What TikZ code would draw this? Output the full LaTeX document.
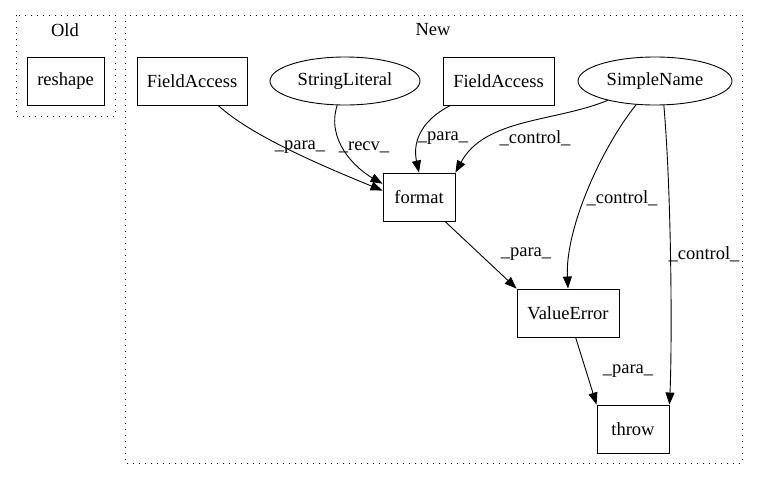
\documentclass[tikz,border=0pt]{standalone}
\usepackage{fontspec}
\setmainfont{Liberation Serif}
\usetikzlibrary{arrows.meta,shapes.geometric}
\begin{document}
\begin{tikzpicture}[x=1pt,y=-1pt,
  every node/.style={font=\fontsize{18.5}{21}\selectfont},
  box/.style={draw,line width=0.9pt,rectangle,inner sep=0pt},
  oval/.style={draw,line width=0.9pt,ellipse,inner sep=0pt},
  cluster/.style={draw,line width=1pt,dash pattern=on 1pt off 5pt},
  edge/.style={draw,line width=0.9pt,-{Triangle[length=12pt,width=9pt]}},
  lbl/.style={inner sep=1pt}]
\useasboundingbox (0,0) rectangle (759,480);

% clusters
\draw[cluster] (16,15) rectangle (115,116);
\node[lbl] (oldlbl) at (65,30) {Old};
\draw[cluster] (125,15) rectangle (742,463);
\node[lbl] (newlbl) at (433,30) {New};

% nodes
\node[box,minimum width=77pt,minimum height=48pt] (reshape) at (65.5,81) {reshape};
\node[box,minimum width=110pt,minimum height=48pt] (fa1) at (192,81) {FieldAccess};
\node[oval,minimum width=150pt,minimum height=48pt] (sl) at (345,81) {StringLiteral};
\node[box,minimum width=111pt,minimum height=48pt] (fa2) at (498.5,81) {FieldAccess};
\node[oval,minimum width=154pt,minimum height=48pt] (sn) at (655,81) {SimpleName};
\node[box,minimum width=72pt,minimum height=48pt] (fmt) at (419,197) {format};
\node[box,minimum width=102pt,minimum height=48pt] (ve) at (568,313) {ValueError};
\node[box,minimum width=72pt,minimum height=48pt] (thr) at (633,429) {throw};

% edges
\draw[edge] (fa1) .. controls (250,135) and (320,165) .. (fmt.170);
\node[lbl] at (300,147) {\_para\_};
\draw[edge] (sl) .. controls (326,140) and (355,168) .. (fmt.160);
\node[lbl] at (364,147) {\_recv\_};
\draw[edge] (fa2) .. controls (418,122) and (413,145) .. (fmt.north);
\node[lbl] at (443,138) {\_para\_};
\draw[edge] (sn) .. controls (555,122) and (485,118) .. (fmt.north east);
\node[lbl] at (535,138) {\_control\_};
\draw[edge] (sn) .. controls (600,150) and (565,230) .. (ve.north);
\node[lbl] at (622,198) {\_control\_};
\draw[edge] (sn.290) .. controls (672,200) and (672,350) .. (thr.north east);
\node[lbl] at (704,254) {\_control\_};
\draw[edge] (fmt) -- (ve.north west);
\node[lbl] at (526,254) {\_para\_};
\draw[edge] (ve) -- (thr.north west);
\node[lbl] at (628,371) {\_para\_};
\end{tikzpicture}
\end{document}
